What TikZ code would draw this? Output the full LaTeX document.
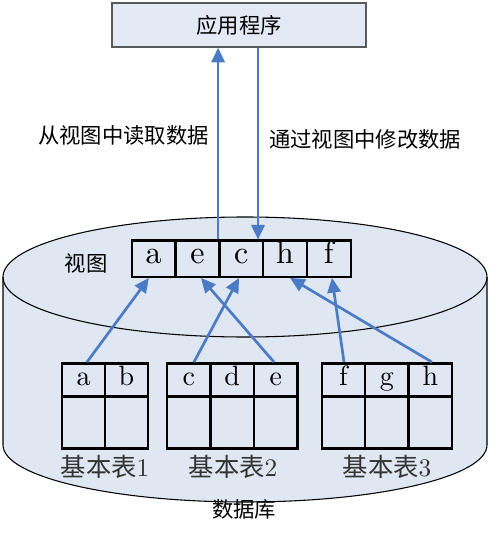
\documentclass[tikz,border=0pt]{standalone}
\usepackage{fontspec}
\newfontfamily\cjk{Noto Sans CJK SC}
\newfontfamily\cellfont{lmroman10-regular}[Extension=.otf]
\usetikzlibrary{arrows.meta}
\definecolor{dbfill}{HTML}{DFE7F2}
\definecolor{appfill}{HTML}{E4EAF5}
\definecolor{appborder}{HTML}{595959}
\definecolor{flowblue}{HTML}{4A7BC4}
\begin{document}
\begin{tikzpicture}[x=0.75pt,y=-0.75pt,
viewcell/.style={draw,rectangle,line width=1.8pt,inner sep=0pt,minimum width=32.85pt,minimum height=27pt,text height=0.75em,text depth=0pt,font=\cellfont\fontsize{24}{28}\selectfont},
headcell/.style={draw,rectangle,line width=1.8pt,inner sep=0pt,minimum width=32.6pt,minimum height=25pt,text height=0.75em,text depth=0pt,font=\cellfont\fontsize{21}{25}\selectfont},
bodycell/.style={draw,rectangle,line width=1.8pt,inner sep=0pt,minimum width=32.6pt,minimum height=38.7pt},
flow/.style={-{Triangle[length=11pt,width=10pt]},line width=2pt,color=flowblue},
cjklabel/.style={font=\cjk\fontsize{16}{20}\selectfont},
tablelabel/.style={font=\cellfont\fontsize{19}{23}\selectfont,color=black!80}]
\useasboundingbox (0,0) rectangle (493,534);
% database cylinder
\fill[dbfill] (3,277) -- (3,445) arc[start angle=180,end angle=0,x radius=242,y radius=57] -- (487,277) arc[start angle=0,end angle=-180,x radius=242,y radius=60] -- cycle;
\draw[line width=0.8pt] (3,277) -- (3,445) arc[start angle=180,end angle=0,x radius=242,y radius=57] -- (487,277);
\draw[line width=0.8pt] (245,277) ellipse[x radius=242,y radius=60];
\draw (244,509) node[cjklabel] (dblbl) {数据库};

% application
\draw (239,25) node[draw=appborder,fill=appfill,line width=1.1pt,minimum width=190.5pt,minimum height=33pt,cjklabel] (app) {应用程序};

% view
\draw (86,263) node[cjklabel] (vlbl) {视图};
\draw (153.6,258.7) node[viewcell] (va) {a};
\draw (197.4,258.7) node[viewcell] (ve) {e};
\draw (241.2,258.7) node[viewcell] (vc) {c};
\draw (285.0,258.7) node[viewcell] (vh) {h};
\draw (328.8,258.7) node[viewcell] (vf) {f};

% base tables
\draw (83.5,380) node[headcell] (t1a) {a};
\draw (126.5,380) node[headcell] (t1b) {b};
\draw (83.5,422.5) node[bodycell] (b1a) {};
\draw (126.5,422.5) node[bodycell] (b1b) {};
\draw (105,467) node[tablelabel] (lbl1) {{\cjk 基本表}1};

\draw (188.75,380) node[headcell] (t2c) {c};
\draw (232.25,380) node[headcell] (t2d) {d};
\draw (275.75,380) node[headcell] (t2e) {e};
\draw (188.75,422.5) node[bodycell] (b2c) {};
\draw (232.25,422.5) node[bodycell] (b2d) {};
\draw (275.75,422.5) node[bodycell] (b2e) {};
\draw (233,467) node[tablelabel] (lbl2) {{\cjk 基本表}2};

\draw (343.45,380) node[headcell] (t3f) {f};
\draw (386.95,380) node[headcell] (t3g) {g};
\draw (430.45,380) node[headcell] (t3h) {h};
\draw (343.45,422.5) node[bodycell] (b3f) {};
\draw (386.95,422.5) node[bodycell] (b3g) {};
\draw (430.45,422.5) node[bodycell] (b3h) {};
\draw (387,467) node[tablelabel] (lbl3) {{\cjk 基本表}3};

% columns into the view
\draw[flow] ([xshift=2.6pt]t1a.north) -- ([xshift=-3.5pt]va.south);
\draw[flow] ([xshift=3.9pt]t2c.north) -- ([xshift=-1.6pt]vc.south);
\draw[flow] ([xshift=-1.3pt]t2e.north) -- ([xshift=2.7pt]ve.south);
\draw[flow] ([xshift=0.4pt]t3f.north) -- ([xshift=2.4pt]vf.south);
\draw[flow] ([xshift=1.2pt]t3h.north) -- ([xshift=3.75pt]vh.south);

% read and write
\coordinate (dn) at ([xshift=12.6pt]vc.north);
\draw[flow] (vc.north west) -- (vc.north west |- app.south);
\draw[flow] (app.south -| dn) -- (dn);
\draw (123.5,135) node[cjklabel] (readlbl) {从视图中读取数据};
\draw (365,139) node[cjklabel] (writelbl) {通过视图中修改数据};
\end{tikzpicture}
\end{document}
